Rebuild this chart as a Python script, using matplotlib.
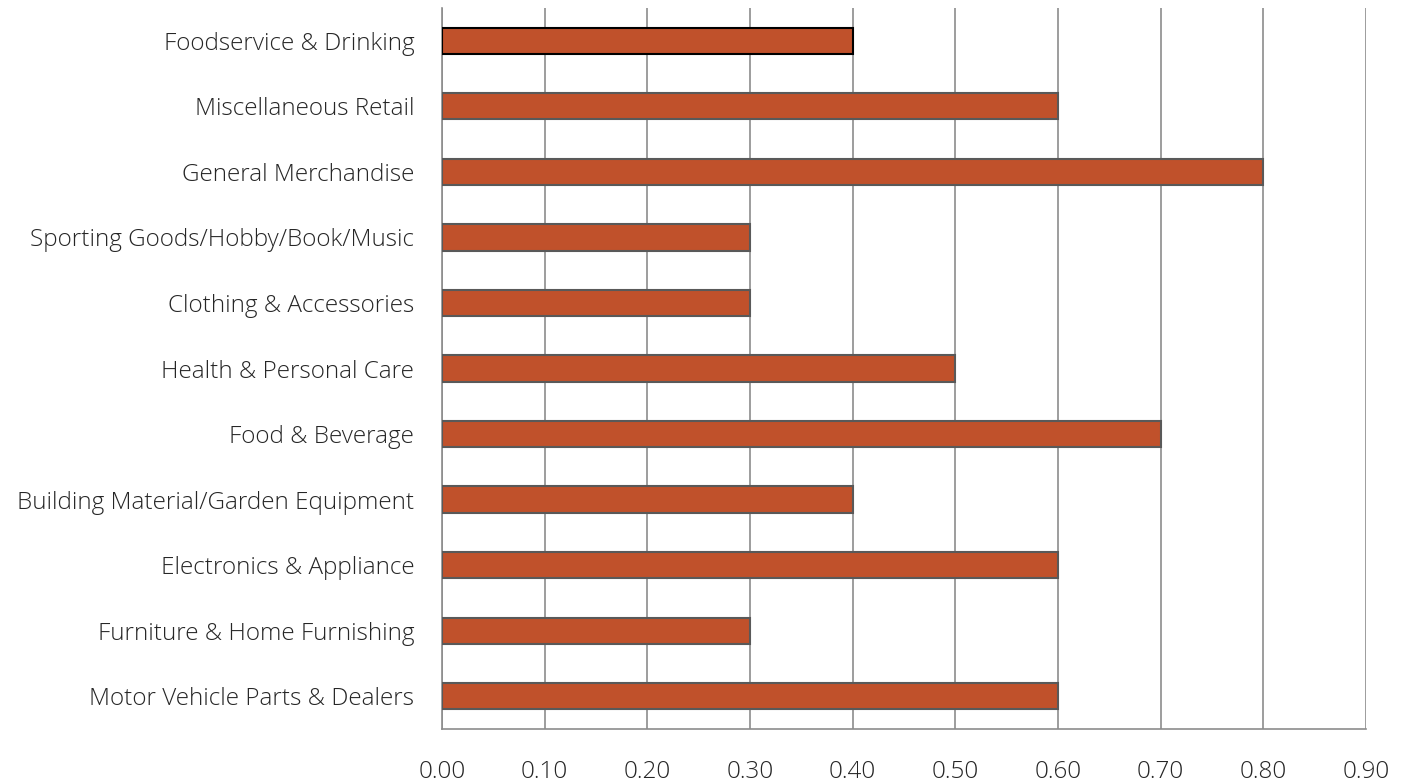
import matplotlib
matplotlib.use("Agg")
import matplotlib.pyplot as plt
import numpy as np

categories = [
    "Motor Vehicle Parts & Dealers",
    "Furniture & Home Furnishing",
    "Electronics & Appliance",
    "Building Material/Garden Equipment",
    "Food & Beverage",
    "Health & Personal Care",
    "Clothing & Accessories",
    "Sporting Goods/Hobby/Book/Music",
    "General Merchandise",
    "Miscellaneous Retail",
    "Foodservice & Drinking",
]
values = [0.60, 0.30, 0.60, 0.40, 0.70, 0.50, 0.30, 0.30, 0.80, 0.60, 0.40]
xticks = np.arange(0, 0.91, 0.10)

plt.rcParams["font.family"] = ["Open Sans", "DejaVu Sans"]

fig = plt.figure(figsize=(14.08, 7.84), dpi=100)
ax = fig.add_axes([442 / 1408, 55 / 784, 924 / 1408, 721 / 784])

y = np.arange(len(categories))
edges = ["#595959"] * (len(categories) - 1) + ["#000000"]
ax.barh(y, values, height=0.4, color="#C0512B", edgecolor=edges, linewidth=1.5, zorder=3)

ax.set_xlim(0, 0.9)
ax.set_ylim(-0.5, len(categories) - 0.5)
ax.set_xticks(xticks)
ax.set_xticklabels([f"{v:.2f}" for v in xticks], fontsize=17.5, fontweight="light", color="#262626")
ax.set_yticks(y)
ax.set_yticklabels(categories, fontsize=17.5, fontweight="light", color="#262626")
ax.tick_params(axis="x", length=0, pad=22)
ax.tick_params(axis="y", length=0, pad=20)
ax.grid(axis="x", color="#8c8c8c", linewidth=1.2, zorder=0)

for s in ["top", "right"]:
    ax.spines[s].set_visible(False)
ax.spines["left"].set_color("#8c8c8c")
ax.spines["left"].set_linewidth(1.2)
ax.spines["bottom"].set_color("#8c8c8c")
ax.spines["bottom"].set_linewidth(1.2)

fig.savefig("out.png", dpi=100)
